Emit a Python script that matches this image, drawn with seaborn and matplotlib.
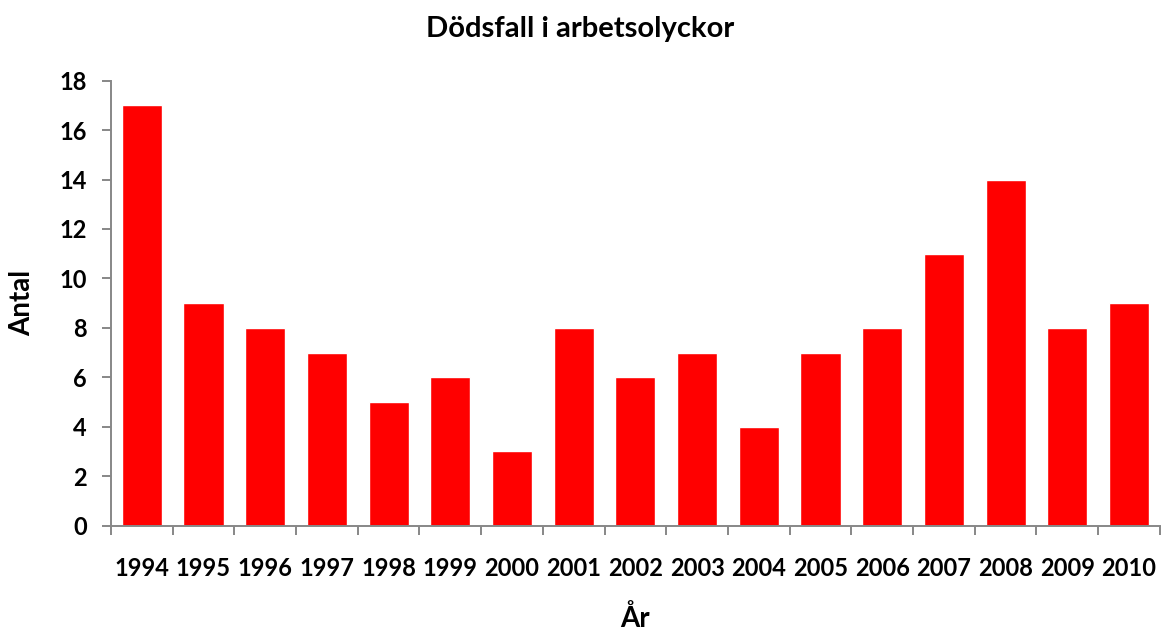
import numpy as np
import pandas as pd
import seaborn as sns
import matplotlib.pyplot as plt

years = ['1994', '1995', '1996', '1997', '1998', '1999', '2000', '2001', '2002',
         '2003', '2004', '2005', '2006', '2007', '2008', '2009', '2010']
deaths = [17, 9, 8, 7, 5, 6, 3, 8, 6, 7, 4, 7, 8, 11, 14, 8, 9]

df = pd.DataFrame({'year': years, 'antal': deaths})

sns.set_style('white')
plt.rcParams['font.family'] = ['Lato', 'DejaVu Sans']
plt.rcParams['font.weight'] = 'bold'
plt.rcParams['text.color'] = 'black'
plt.rcParams['axes.labelcolor'] = 'black'
plt.rcParams['xtick.labelcolor'] = 'black'
plt.rcParams['ytick.labelcolor'] = 'black'

fig = plt.figure(figsize=(11.61, 6.32), dpi=100)
ax = fig.add_axes([0.0956, 0.1685, 0.9034, 0.7038])

sns.barplot(data=df, x='year', y='antal', color='#ff0000', saturation=1, width=0.65, ax=ax)

ax.set_ylim(0, 18)
ax.set_xlim(-0.5, len(years) - 0.5)
ax.set_yticks(np.arange(0, 19, 2))
sns.despine(ax=ax)
for s in ['left', 'bottom']:
    ax.spines[s].set_color('#878787')
    ax.spines[s].set_linewidth(1.4)

# ticks between the categories on x
ax.set_xticks(np.arange(-0.5, len(years), 1), minor=True)
ax.tick_params(axis='x', which='major', length=0, pad=23, labelsize=17, labelcolor='black')
ax.tick_params(axis='x', which='minor', length=6.5, width=1.4, color='#878787', direction='out', bottom=True)
ax.tick_params(axis='y', length=6.5, width=1.4, color='#878787', direction='out', left=True, pad=11,
               labelsize=17, labelcolor='black')

ax.set_xlabel('År', fontsize=20, fontweight='bold', va='center', color='black')
ax.xaxis.set_label_coords(0.5, -0.21)
ax.set_ylabel('Antal', fontsize=20, fontweight='bold', va='center', color='black')
ax.yaxis.set_label_coords(-0.085, 0.5)
fig.suptitle('Dödsfall i arbetsolyckor', fontsize=21, fontweight='bold', x=0.5, y=0.954, va='center',
             color='black')

fig.savefig('out.png', dpi=100)
